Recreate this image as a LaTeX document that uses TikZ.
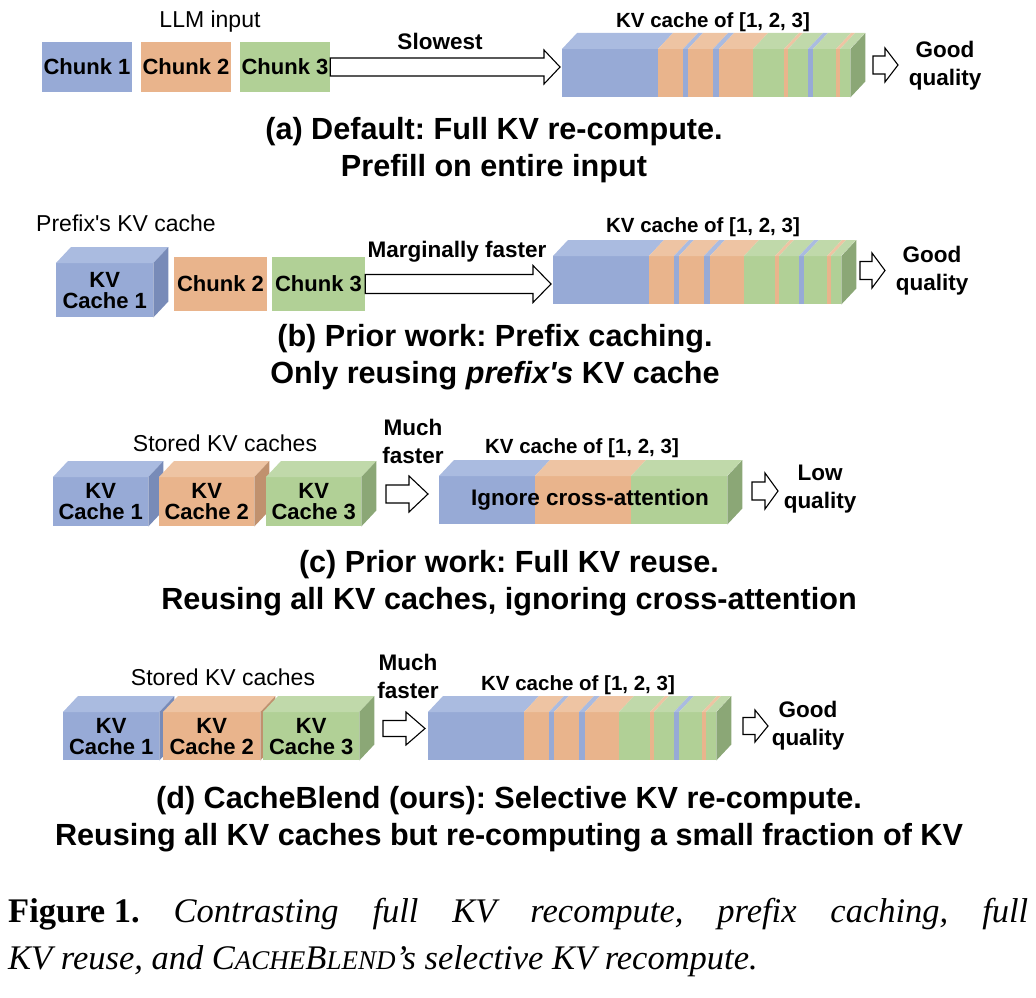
\documentclass[tikz,border=0pt]{standalone}
\usepackage{fontspec}
\setmainfont{Liberation Sans}
\newfontfamily\capserif{Liberation Serif}
\usetikzlibrary{calc}
\frenchspacing

\definecolor{fblue}{HTML}{97AAD6}
\definecolor{tblue}{HTML}{AABBE0}
\definecolor{sblue}{HTML}{788BB8}
\definecolor{forange}{HTML}{E9B48C}
\definecolor{torange}{HTML}{EEC4A3}
\definecolor{sorange}{HTML}{C0916E}
\definecolor{fgreen}{HTML}{B1D096}
\definecolor{tgreen}{HTML}{C0D9AA}
\definecolor{sgreen}{HTML}{8BA776}

% hollow block arrow between two points
\newcommand{\blockarrow}[5]{%
  \draw[fill=white, line join=miter, line width=1.1pt] let \p1=(#1), \p2=(#2) in
    (\x1,\y1+#3) -- (\x2-#5,\y1+#3) -- (\x2-#5,\y1+#4) -- (\x2,\y1)
    -- (\x2-#5,\y1-#4) -- (\x2-#5,\y1-#3) -- (\x1,\y1-#3) -- cycle;}

% top and side of a cube whose front is a node
\newcommand{\cubedepth}[2]{%
  \fill[t#2] (#1.north west) -- ++(15,-16) -- ([shift={(15,-16)}]#1.north east) -- (#1.north east) -- cycle;
  \fill[s#2] (#1.north east) -- ++(15,-16) -- ([shift={(15,-16)}]#1.south east) -- (#1.south east) -- cycle;}

% long KV block, cut into coloured slices
\newcommand{\mixlist}{0/96/blue,96/121/orange,121/126/blue,126/151/orange,151/157/blue,157/191/orange,191/222/green,222/226/orange,226/246/green,246/251/blue,251/274/green,274/278/orange,278/288/green}
\newcommand{\splitlist}{0/96/blue,96/192/orange,192/288/green}
\newcommand{\kvblock}[2]{%
  \foreach \sa/\sb/\hue in #2 {
    \fill[f\hue] ([xshift=\sa]#1.north west) rectangle ([xshift=\sb]#1.south west);
    \fill[t\hue] ([xshift=\sa]#1.north west) -- ++(15,-16) -- ([shift={(\sb+15,-16)}]#1.north west) -- ([xshift=\sb]#1.north west) -- cycle;
  }
  \fill[sgreen] (#1.north east) -- ++(15,-16) -- ([shift={(15,-16)}]#1.south east) -- (#1.south east) -- cycle;}

\begin{document}
\begin{tikzpicture}[x=1pt, y=-1pt,
chunk/.style={minimum width=90, minimum height=50, inner sep=0pt, font=\bfseries\fontsize{22}{22}\selectfont},
cube/.style={anchor=north west, minimum width=95, minimum height=49, inner sep=0pt, align=center, font=\bfseries\fontsize{22}{21}\selectfont},
block/.style={anchor=north west, minimum width=288, minimum height=48, inner sep=0pt},
lbl/.style={inner sep=0pt, align=center, font=\bfseries\fontsize{22.5}{28}\selectfont},
plain/.style={inner sep=0pt, font=\fontsize{23}{27}\selectfont},
kvlbl/.style={inner sep=0pt, font=\bfseries\fontsize{20.5}{24}\selectfont},
subcap/.style={inner sep=0pt, align=center, font=\bfseries\fontsize{30.6}{37}\selectfont}
]
\useasboundingbox (0,0) rectangle (1036,998);

% (a)
\node [chunk, fill=fblue] (ch1) at (87,67) {Chunk 1};
\node [chunk, fill=forange] (ch2) at (186,67) {Chunk 2};
\node [chunk, fill=fgreen] (ch3) at (285,67) {Chunk 3};
\node [plain] (llm) at (210,22) {LLM input};

\node [block] (kva) at (562,49) {};
\kvblock{kva}{\mixlist}
\node [kvlbl] (kvat) at (713,22) {KV cache of [1, 2, 3]};

\coordinate (atip) at (560,67);
\blockarrow{ch3.east}{atip}{9pt}{17pt}{16pt}
\node [lbl] (slow) at (440,41) {Slowest};

\coordinate (qa0) at (873,65);
\coordinate (qa1) at (898,65);
\blockarrow{qa0}{qa1}{9pt}{17pt}{13pt}
\node [lbl] (qa) at (945,66) {Good\\quality};

\node [subcap] (capa) at (494,150) {(a) Default: Full KV re-compute.\\Prefill on entire input};

% (b)
\node [cube, fill=fblue, minimum width=97, minimum height=54] (kv1b) at (56,263) {KV\\Cache 1};
\cubedepth{kv1b}{blue}
\node [chunk, fill=forange, minimum width=93, minimum height=54] (ch2b) at (220.5,284) {Chunk 2};
\node [chunk, fill=fgreen, minimum width=93, minimum height=54] (ch3b) at (318.5,284) {Chunk 3};
\node [plain] (pre) at (126,223) {Prefix\textquotesingle s KV cache};

\node [block] (kvb) at (553,256) {};
\kvblock{kvb}{\mixlist}
\node [kvlbl] (kvbt) at (703,227) {KV cache of [1, 2, 3]};

\coordinate (btip) at (551,284);
\blockarrow{ch3b.east}{btip}{9.5pt}{18.5pt}{18pt}
\node [lbl] (marg) at (457,252) {Marginally faster};

\coordinate (qb0) at (860,270.5);
\coordinate (qb1) at (885,270.5);
\blockarrow{qb0}{qb1}{9pt}{17.5pt}{13pt}
\node [lbl] (qb) at (932,271) {Good\\quality};

\node [subcap] (capb) at (495,357) {(b) Prior work: Prefix caching.\\Only reusing \textit{prefix\textquotesingle s} KV cache};

% (c)
\node [cube, fill=fblue] (kv1c) at (53,477) {KV\\Cache 1};
\cubedepth{kv1c}{blue}
\node [cube, fill=forange] (kv2c) at (159,477) {KV\\Cache 2};
\cubedepth{kv2c}{orange}
\node [cube, fill=fgreen] (kv3c) at (266,477) {KV\\Cache 3};
\cubedepth{kv3c}{green}
\node [plain] (storc) at (225,443) {Stored KV caches};

\coordinate (mc0) at (386,494);
\coordinate (mc1) at (428,494);
\blockarrow{mc0}{mc1}{9pt}{18pt}{19pt}
\node [lbl] (fastc) at (413,441) {Much\\faster};

\node [block] (kvc) at (439,476) {};
\kvblock{kvc}{\splitlist}
\node [kvlbl] (kvct) at (582,448) {KV cache of [1, 2, 3]};
\node [lbl] (ign) at (590,500) {Ignore cross-attention};

\coordinate (qc0) at (752,491);
\coordinate (qc1) at (778,491);
\blockarrow{qc0}{qc1}{9pt}{18pt}{13pt}
\node [lbl] (qc) at (820,489) {Low\\quality};

\node [subcap] (capc) at (509,583) {(c) Prior work: Full KV reuse.\\Reusing all KV caches, ignoring cross-attention};

% (d)
\node [cube, fill=fblue, minimum width=96, minimum height=48] (kv1d) at (63,712) {KV\\Cache 1};
\cubedepth{kv1d}{blue}
\node [cube, fill=forange, minimum width=97, minimum height=48] (kv2d) at (163,712) {KV\\Cache 2};
\cubedepth{kv2d}{orange}
\node [cube, fill=fgreen, minimum width=96, minimum height=48] (kv3d) at (263,712) {KV\\Cache 3};
\cubedepth{kv3d}{green}
\node [plain] (stord) at (223,677) {Stored KV caches};

\coordinate (md0) at (383,728.5);
\coordinate (md1) at (425,728.5);
\blockarrow{md0}{md1}{8pt}{16.5pt}{19pt}
\node [lbl] (fastd) at (408,676) {Much\\faster};

\node [block] (kvd) at (428,712) {};
\kvblock{kvd}{\mixlist}
\node [kvlbl] (kvdt) at (578,685) {KV cache of [1, 2, 3]};

\coordinate (qd0) at (743,726);
\coordinate (qd1) at (768,726);
\blockarrow{qd0}{qd1}{8.5pt}{16pt}{13pt}
\node [lbl] (qd) at (808,726) {Good\\quality};

\node [subcap] (capd) at (509,819) {(d) CacheBlend (ours): Selective KV re-compute.\\Reusing all KV caches but re-computing a small fraction of KV};

% figure caption
\node [anchor=north west, inner sep=0pt, align=left, font=\capserif\fontsize{34.5}{47}\selectfont] (fig) at (8,898)
  {\hbox to 1020pt{\hbox{\bfseries Figure 1.} \itshape Contrasting full KV recompute, prefix caching, full}\\
   \itshape KV reuse, and C{\fontsize{27}{47}\selectfont ACHE}B{\fontsize{27}{47}\selectfont LEND}’s selective KV recompute.};
\end{tikzpicture}
\end{document}
